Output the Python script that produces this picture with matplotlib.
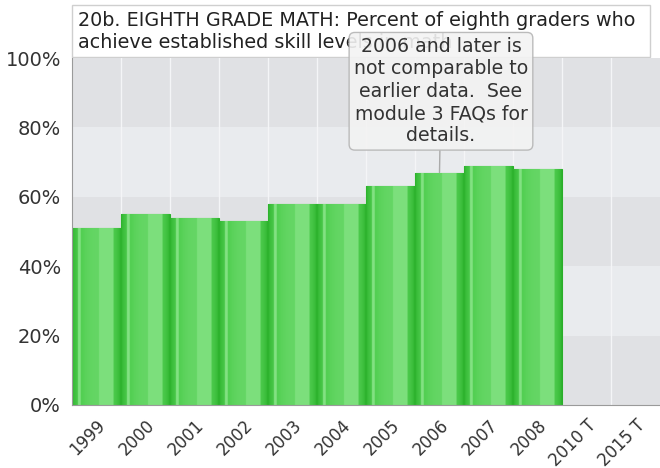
import numpy as np
import matplotlib.pyplot as plt
from matplotlib.patches import FancyBboxPatch
from matplotlib.colors import LinearSegmentedColormap

years = ["1999", "2000", "2001", "2002", "2003", "2004", "2005", "2006",
         "2007", "2008", "2010 T", "2015 T"]
pct = [51, 55, 54, 53, 58, 58, 63, 67, 69, 68, np.nan, np.nan]
yticks = [0, 20, 40, 60, 80, 100]

title = ("20b. EIGHTH GRADE MATH: Percent of eighth graders who\n"
         "achieve established skill levels in math")
note = "2006 and later is\nnot comparable to\nearlier data.  See\nmodule 3 FAQs for\ndetails."

fig = plt.figure(figsize=(6.6, 4.68), dpi=100)
ax = fig.add_axes([72 / 660, 1 - 405 / 468, 1 - 72 / 660, (405 - 58) / 468])
ax.set_zorder(3)

x = np.arange(len(years))
ax.set_xlim(-0.5, len(years) - 0.5)
ax.set_ylim(0, 100)

# alternating horizontal bands
ax.set_facecolor("#e9ebee")
for i, lo in enumerate(yticks[:-1]):
    if i % 2 == 0:
        ax.axhspan(lo, lo + 20, color="#e0e1e4", zorder=0, lw=0)
for b in np.arange(0.5, len(years) - 0.5):
    ax.axvline(b, color="#f4f5f7", lw=1, zorder=0.5)

# bars with horizontal gradient
grad = np.linspace(0, 1, 256)
cmap = LinearSegmentedColormap.from_list("g", ["#26ad26", "#52cf52", "#8ee68e"])
bars = ax.bar(x, pct, width=0.98, color="#4ccc4c", edgecolor="#2aae2a",
              lw=0.8, zorder=2)
for bar, v in zip(bars, pct):
    if np.isnan(v):
        continue
    x0 = bar.get_x()
    w = bar.get_width()
    g = np.sin(np.pi * grad) ** 0.5 * 0.65
    g = np.where(np.abs(grad - 0.15) < 0.03, 0.9, g)
    g = np.where((grad > 0.55) & (grad < 0.85), np.maximum(g, 0.85), g)
    im = ax.imshow(g[None, :], cmap=cmap, aspect="auto", zorder=2.5,
                   extent=(x0, x0 + w, 0, v), vmin=0, vmax=1,
                   interpolation="bilinear")
    im.set_clip_path(bar)

for s in ["top", "right"]:
    ax.spines[s].set_visible(False)
ax.spines["left"].set_color("#9a9a9a")
ax.spines["bottom"].set_color("#9a9a9a")

ax.set_yticks(yticks)
ax.set_yticklabels([f"{t}%" for t in yticks], fontsize=14, color="#333333")
ax.set_xticks(x)
ax.set_xticklabels(years, rotation=45, ha="right", rotation_mode="anchor",
                   fontsize=12, color="#333333")
ax.tick_params(axis="y", length=0, pad=8)
ax.tick_params(axis="x", length=0, pad=8)

# title box
fig.patches.append(FancyBboxPatch((72 / 660, 1 - 57 / 468), (650 - 72) / 660,
                                  52 / 468, boxstyle="square,pad=0",
                                  transform=fig.transFigure, fc="white",
                                  ec="#cfcfcf", lw=1, zorder=1))
fig.text(78 / 660, 1 - 11 / 468, title, fontsize=13.8, color="#222222",
         va="top", ha="left", linespacing=1.2, zorder=1)

# callout
ax.annotate(note, xy=(7, 67), xytext=(7.03, 106), textcoords="data",
            ha="center", va="top", fontsize=13.6, color="#333333",
            linespacing=1.22, zorder=5, annotation_clip=False,
            bbox=dict(boxstyle="round,pad=0.25,rounding_size=0.3",
                      fc="#f3f3f3", ec="#b5b5b5", alpha=0.9),
            arrowprops=dict(arrowstyle="-", color="#aaaaaa", lw=1,
                            shrinkA=0, shrinkB=0))

fig.savefig("out.png", dpi=100)
